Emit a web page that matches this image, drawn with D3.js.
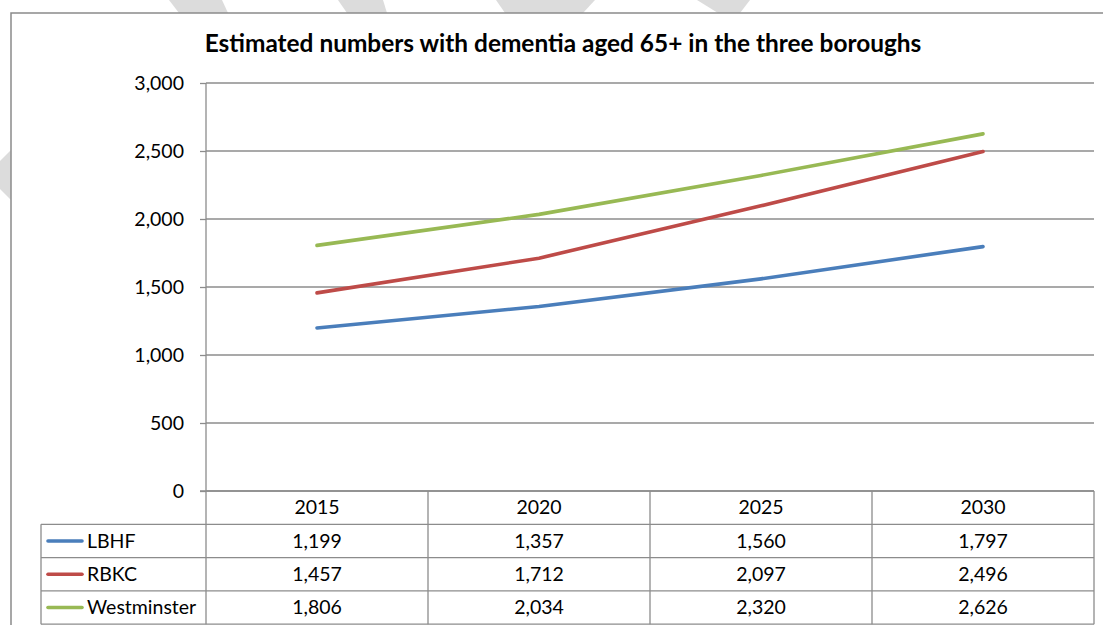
<!DOCTYPE html>
<html>
<head>
<meta charset="utf-8">
<script src="https://cdn.jsdelivr.net/npm/d3@7"></script>
<style>
  html, body { margin: 0; padding: 0; background: #fff; overflow: hidden; }
  svg { display: block; }
  text { font-family: Lato, "Open Sans", sans-serif; fill: #000; }
</style>
</head>
<body>
<svg id="chart" width="1103" height="625"></svg>
<script>
// ---- data ----
const years = ["2015", "2020", "2025", "2030"];
const seriesNames = ["LBHF", "RBKC", "Westminster"];
const lbhf = [1199, 1357, 1560, 1797];
const rbkc = [1457, 1712, 2097, 2496];
const westminster = [1806, 2034, 2320, 2626];
const yTicks = [0, 500, 1000, 1500, 2000, 2500, 3000];
const titleText = "Estimated numbers with dementia aged 65+ in the three boroughs";

const seriesValues = [lbhf, rbkc, westminster];
const colors = ["#4A7EBB", "#BE4B48", "#98B954"];

const svg = d3.select("#chart");

// faint watermark fragments showing outside the chart frame
const wm = [
  [[169,0],[222,0],[228,13],[179,13]],
  [[338,0],[383,0],[387,13],[347,13]],
  [[496,0],[595,0],[583,13],[505,13]],
  [[697,0],[750,0],[740,13],[718,13]],
  [[11,150],[0,161],[0,189],[11,200]]
];
svg.append("g").selectAll("path").data(wm).join("path")
  .attr("d", d => "M" + d.join("L") + "Z")
  .attr("fill", "#dcdcdc");

// chart frame (left and top edges visible; right/bottom are outside the picture)
svg.append("rect")
  .attr("x", 11).attr("y", 13)
  .attr("width", 1092).attr("height", 612)
  .attr("fill", "#fff");
svg.append("path")
  .attr("d", "M11,625L11,13L1103,13")
  .attr("fill", "none").attr("stroke", "#8a8a8a").attr("stroke-width", 1.5);

// layout
const plotL = 206, plotR = 1094, plotT = 83, plotB = 491;
const rowH = 33.3;
const tableL = 41;

const x = d3.scaleBand().domain(years).range([plotL, plotR]).padding(0);
const y = d3.scaleLinear().domain([0, 3000]).range([plotB, plotT]);
const xc = d => x(d) + x.bandwidth() / 2;

// title
const title = svg.append("text")
  .attr("x", 563).attr("y", 52)
  .attr("text-anchor", "middle")
  .attr("font-weight", "bold")
  .attr("font-size", 22)
  .text(titleText);
const tl = title.node().getComputedTextLength();
title.attr("font-size", 22 * 717 / tl);

// gridlines
const gridStroke = "#8c8c8c";
svg.append("g").selectAll("line").data(yTicks).join("line")
  .attr("x1", plotL).attr("x2", plotR)
  .attr("y1", d => y(d)).attr("y2", d => y(d))
  .attr("stroke", gridStroke).attr("stroke-width", 1.3);

// y axis
const yAxis = d3.axisLeft(y).tickValues(yTicks).tickFormat(d3.format(",")).tickSize(6).tickPadding(16);
const yg = svg.append("g").attr("transform", `translate(${plotL},0)`).call(yAxis);
yg.select(".domain").remove();
yg.selectAll(".tick line").attr("stroke", gridStroke).attr("stroke-width", 1.3);
yg.selectAll(".tick text")
  .attr("font-family", "Lato, 'Open Sans', sans-serif")
  .attr("font-size", 19.5).attr("fill", "#000");

// lines
const line = d3.line().x((d, i) => xc(years[i])).y(d => y(d));
svg.append("g").selectAll("path").data(seriesValues).join("path")
  .attr("d", d => line(d))
  .attr("fill", "none")
  .attr("stroke", (d, i) => colors[i])
  .attr("stroke-width", 3.6)
  .attr("stroke-linejoin", "round")
  .attr("stroke-linecap", "round");

// data table
const tg = svg.append("g");
const tableBottom = plotB + rowH * 4;
tg.append("line").attr("x1", plotL).attr("x2", plotL).attr("y1", plotT).attr("y2", tableBottom)
  .attr("stroke", gridStroke).attr("stroke-width", 1.3);
tg.selectAll("line.col").data(years).join("line").attr("class", "col")
  .attr("x1", d => x(d) + x.bandwidth()).attr("x2", d => x(d) + x.bandwidth())
  .attr("y1", plotB).attr("y2", tableBottom)
  .attr("stroke", gridStroke).attr("stroke-width", 1.3);
tg.append("line").attr("x1", tableL).attr("x2", tableL).attr("y1", plotB + rowH).attr("y2", tableBottom)
  .attr("stroke", gridStroke).attr("stroke-width", 1.3);
tg.selectAll("line.row").data(d3.range(1, 5)).join("line").attr("class", "row")
  .attr("x1", tableL).attr("x2", plotR)
  .attr("y1", i => plotB + rowH * i).attr("y2", i => plotB + rowH * i)
  .attr("stroke", gridStroke).attr("stroke-width", 1.3);
tg.append("line").attr("x1", plotL - 6).attr("x2", plotR).attr("y1", plotB).attr("y2", plotB)
  .attr("stroke", gridStroke).attr("stroke-width", 1.3);

// header years
tg.selectAll("text.yr").data(years).join("text").attr("class", "yr")
  .attr("x", d => xc(d)).attr("y", plotB + rowH / 2)
  .attr("dy", "0.35em").attr("text-anchor", "middle").attr("font-size", 19.5)
  .text(d => d);

// rows
const fmt = d3.format(",");
seriesNames.forEach((name, si) => {
  const cy = plotB + rowH * (si + 1.5);
  tg.append("line").attr("x1", 48).attr("x2", 82).attr("y1", cy).attr("y2", cy)
    .attr("stroke", colors[si]).attr("stroke-width", 3.6).attr("stroke-linecap", "round");
  tg.append("text").attr("x", 87).attr("y", cy).attr("dy", "0.35em")
    .attr("font-size", 19.5).text(name);
  tg.selectAll(null).data(seriesValues[si]).join("text")
    .attr("x", (d, i) => xc(years[i])).attr("y", cy).attr("dy", "0.35em")
    .attr("text-anchor", "middle").attr("font-size", 19.5)
    .text(d => fmt(d));
});
</script>
</body>
</html>
